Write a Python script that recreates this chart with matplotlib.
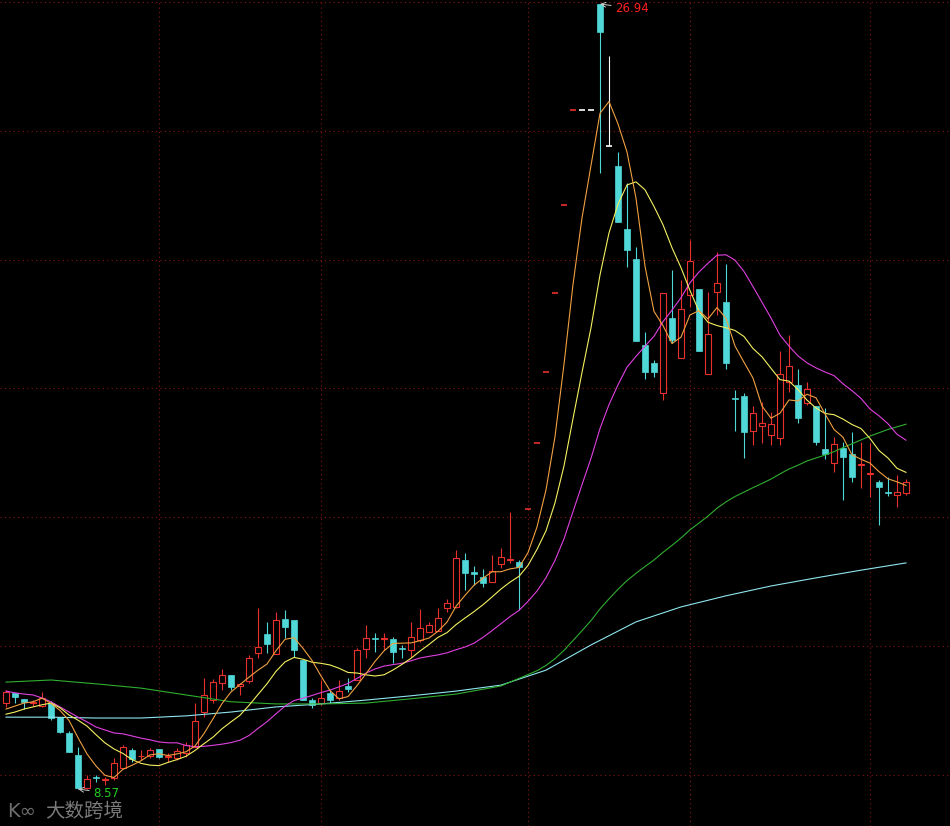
import numpy as np
import pandas as pd
import matplotlib
matplotlib.use('Agg')
import matplotlib.pyplot as plt
from matplotlib.patches import Rectangle

# daily OHLC
opens = [10.58, 10.82, 10.68, 10.58, 10.51, 10.58, 10.25, 9.88, 9.36, 8.59,
         8.85, 8.78, 8.83, 9.06, 9.48, 9.33, 9.34, 9.50, 9.32, 9.29,
         9.41, 9.55, 10.37, 10.65, 11.05, 11.24, 10.98, 11.10, 11.75, 12.20,
         11.73, 12.55, 12.52, 11.59, 10.65, 10.58, 10.82, 10.70, 10.98, 11.12,
         11.85, 12.10, 12.08, 12.08, 11.87, 11.82, 12.06, 12.24, 12.27, 12.80,
         12.83, 13.93, 13.65, 13.53, 13.41, 13.83, 13.93, 13.88, 15.12, 16.67,
         18.33, 20.18, 22.24, 24.46, 24.46, 24.46, 26.94, 23.62, 23.15, 21.68,
         20.97, 18.96, 18.54, 17.84, 19.59, 18.66, 20.13, 20.27, 18.28, 20.20,
         19.97, 17.73, 17.77, 16.95, 17.07, 16.85, 16.78, 18.09, 18.02, 17.60,
         17.53, 16.53, 16.20, 16.55, 16.41, 16.15, 15.94, 15.75, 15.52, 15.45,
         15.50]
highs = [10.89, 10.82, 10.68, 10.65, 10.84, 10.63, 10.25, 9.93, 9.55, 8.90,
         8.90, 8.85, 9.29, 9.60, 9.53, 9.48, 9.53, 9.50, 9.41, 9.53,
         9.67, 10.58, 11.17, 11.14, 11.38, 11.24, 11.05, 11.70, 12.80, 12.48,
         12.71, 12.76, 12.52, 11.59, 10.70, 11.12, 10.89, 11.12, 11.17, 11.87,
         12.41, 12.22, 12.22, 12.13, 11.94, 12.48, 12.78, 12.48, 12.80, 13.02,
         14.16, 14.09, 13.79, 13.72, 14.05, 14.21, 15.05, 13.93, 15.12, 16.67,
         18.33, 20.18, 22.24, 24.46, 24.46, 24.46, 26.94, 25.72, 23.48, 22.75,
         21.25, 19.26, 18.60, 20.18, 20.71, 20.48, 21.42, 20.27, 20.20, 21.14,
         20.85, 17.91, 17.84, 17.53, 17.63, 17.39, 18.82, 19.19, 18.40, 18.09,
         17.53, 17.49, 16.81, 16.69, 16.92, 16.69, 16.67, 15.80, 15.87, 15.92,
         15.82]
lows = [10.49, 10.58, 10.44, 10.51, 10.49, 10.18, 9.88, 9.43, 8.57, 8.58,
        8.73, 8.66, 8.78, 9.04, 9.20, 9.25, 9.29, 9.29, 9.20, 9.25,
        9.32, 9.55, 10.25, 10.58, 10.89, 10.89, 10.77, 11.05, 11.63, 11.75,
        11.73, 12.10, 11.66, 10.65, 10.47, 10.54, 10.58, 10.65, 10.84, 11.12,
        11.63, 11.77, 11.82, 11.52, 11.63, 11.66, 12.01, 12.24, 12.27, 12.71,
        12.80, 13.23, 13.34, 13.30, 13.41, 13.74, 13.86, 12.76, 15.12, 16.67,
        18.33, 20.18, 22.24, 24.46, 24.46, 24.46, 22.98, 23.62, 21.84, 20.79,
        19.05, 18.16, 18.21, 17.67, 19.01, 18.66, 19.85, 18.82, 18.28, 19.66,
        18.40, 16.95, 16.32, 16.62, 16.67, 16.62, 16.62, 17.86, 17.13, 17.56,
        16.62, 16.29, 15.99, 15.34, 15.75, 15.61, 15.40, 14.75, 15.43, 15.17,
        15.45]
closes = [10.84, 10.72, 10.60, 10.61, 10.70, 10.23, 9.90, 9.43, 8.59, 8.80,
          8.82, 8.80, 9.18, 9.55, 9.27, 9.35, 9.48, 9.32, 9.34, 9.46,
          9.60, 10.16, 10.77, 11.07, 11.24, 10.96, 11.03, 11.63, 11.89, 11.96,
          12.52, 12.36, 11.82, 10.65, 10.54, 10.70, 10.65, 10.86, 10.91, 11.82,
          12.10, 12.08, 12.10, 11.78, 11.85, 12.13, 12.34, 12.41, 12.57, 12.92,
          13.98, 13.62, 13.60, 13.39, 13.67, 13.99, 13.95, 13.77, 15.12, 16.67,
          18.33, 20.18, 22.24, 24.46, 24.46, 24.46, 26.29, 23.62, 21.84, 21.18,
          19.05, 18.33, 18.33, 20.18, 19.08, 19.80, 20.93, 18.82, 19.22, 20.41,
          18.54, 17.69, 16.92, 17.37, 17.14, 17.11, 18.28, 18.47, 17.25, 17.93,
          16.69, 16.41, 16.64, 16.34, 15.87, 16.17, 15.96, 15.64, 15.50, 15.52,
          15.75]

# moving averages where the history lies left of the window
ma5_head = [10.44, 10.51, 10.58, 10.61]
ma10_head = [10.32, 10.37, 10.44, 10.49, 10.54, 10.58, 10.47, 10.30, 10.18]
ma20_head = [10.86, 10.82, 10.79, 10.77, 10.70, 10.61, 10.49, 10.37, 10.25, 10.14,
             10.02, 9.95, 9.88, 9.86, 9.81, 9.76, 9.72, 9.67, 9.65]
ma60_head = [11.07, 11.12, 11.03, 10.93, 10.77, 10.61, 10.56, 10.56, 10.58, 10.68,
             10.79, 10.98]  # every 5th day
ma120_pts = [10.25, 10.25, 10.23, 10.23, 10.28, 10.37, 10.49, 10.56, 10.65, 10.75,
             10.86, 11.00, 11.35, 11.94, 12.48, 12.83, 13.09, 13.32, 13.51, 13.69,
             13.86]  # every 5th day

grid_prices = [26.99, 23.97, 20.95, 17.95, 14.93, 11.91, 8.90]
month_starts = [17, 35, 58, 76, 96]

RED = '#e8302c'
CYAN = '#50d8d8'

n = len(closes)
idx = np.arange(n)
s = pd.Series(closes)

ma5 = s.rolling(5).mean().values
ma5[:len(ma5_head)] = ma5_head
ma10 = s.rolling(10).mean().values
ma10[:len(ma10_head)] = ma10_head
ma20 = s.rolling(20).mean().values
ma20[:len(ma20_head)] = ma20_head
ma60 = s.rolling(60).mean().values
x60 = np.concatenate([np.arange(0, 5 * len(ma60_head), 5), idx[59:]])
y60 = np.concatenate([ma60_head, ma60[59:]])
x120 = np.arange(0, 5 * len(ma120_pts), 5)

fig = plt.figure(figsize=(9.5, 8.26), dpi=100)
fig.patch.set_facecolor('black')
ax = fig.add_axes([0, 0, 1, 1])
ax.set_facecolor('black')
ax.set_xlim(-0.667, 104.89)
ax.set_ylim(7.703, 27.034)
ax.axis('off')

for p in grid_prices:
    ax.axhline(p, color='#8a1414', ls=(0, (1, 3)), lw=0.8, zorder=1)
for m in month_starts:
    ax.axvline(m, color='#8a1414', ls=(0, (1, 3)), lw=0.8, zorder=1)

w = 0.76
for i in range(n):
    o, h, l, c = opens[i], highs[i], lows[i], closes[i]
    if c > o:
        col = RED
    elif c < o:
        col = CYAN
    else:
        col = RED if (i > 0 and c > closes[i - 1]) else 'white'
    ax.vlines(i, l, h, color=col, lw=0.8, zorder=2)
    if c == o:
        ax.hlines(o, i - w / 2, i + w / 2, color=col, lw=1.2, zorder=3)
    elif c > o:
        ax.add_patch(Rectangle((i - w / 2, o), w, c - o, facecolor='black',
                               edgecolor=col, lw=0.8, zorder=3))
    else:
        ax.add_patch(Rectangle((i - w / 2, c), w, o - c, facecolor=col,
                               edgecolor=col, lw=0.5, zorder=3))

ax.plot(x120, ma120_pts, color='#8fe6f0', lw=0.8, zorder=4)
ax.plot(x60, y60, color='#2fae2f', lw=0.8, zorder=4)
ax.plot(idx, ma20, color='#e040e0', lw=0.8, zorder=4)
ax.plot(idx, ma10, color='#f4f060', lw=0.8, zorder=4)
ax.plot(idx, ma5, color='#f0a040', lw=0.8, zorder=4)

imax = int(np.argmax(highs))
ax.annotate(f'{highs[imax]:.2f}', xy=(imax, highs[imax]), xytext=(11, -3),
            textcoords='offset points', color='#ff2020', fontsize=8.5,
            va='center', ha='left', zorder=5,
            arrowprops=dict(arrowstyle='->', color='#c8c8c8', lw=0.7,
                            shrinkA=1, shrinkB=0))
imin = int(np.argmin(lows))
ax.annotate(f'{lows[imin]:.2f}', xy=(imin, lows[imin]), xytext=(11, -3),
            textcoords='offset points', color='#22d022', fontsize=8.5,
            va='center', ha='left', zorder=5,
            arrowprops=dict(arrowstyle='->', color='#c8c8c8', lw=0.7,
                            shrinkA=1, shrinkB=0))

# watermark
ax.text(0.008, 0.017, 'K∞', transform=ax.transAxes, color='#6e6e6e',
        fontsize=14, va='center', ha='left', family=['DejaVu Sans'], zorder=6)
ax.text(0.047, 0.017, '大数跨境', transform=ax.transAxes, color='#7a7a7a',
        fontsize=14, va='center', ha='left',
        family=['Noto Sans CJK SC', 'DejaVu Sans'], zorder=6)

fig.savefig('out.png', dpi=100, facecolor='black')
